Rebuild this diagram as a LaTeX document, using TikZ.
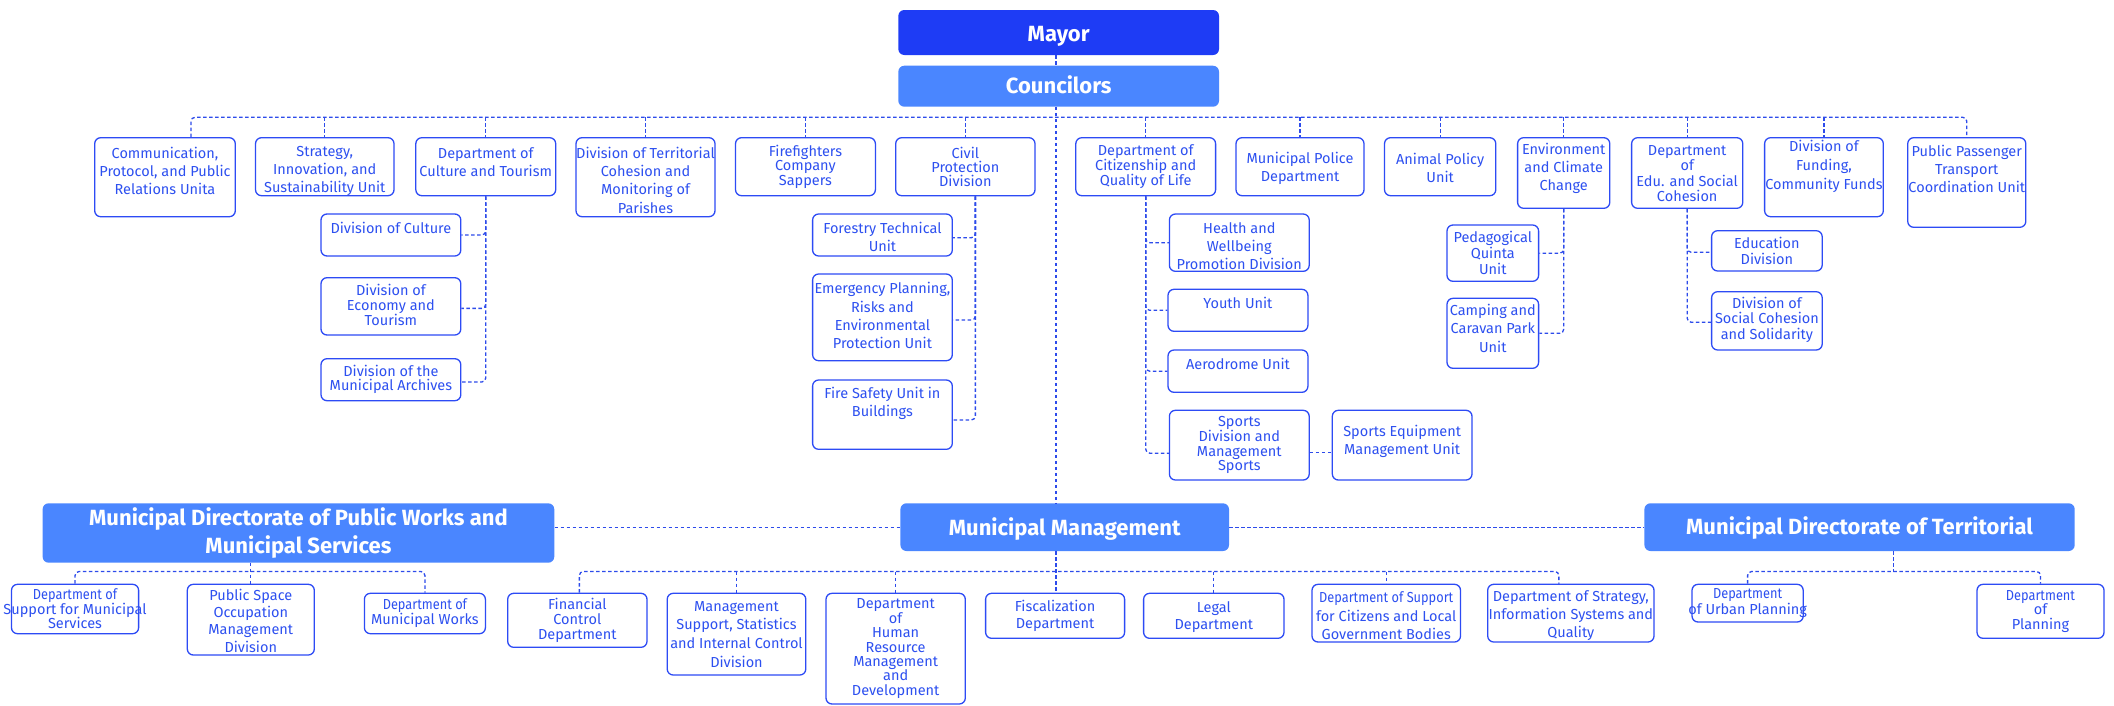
\documentclass[tikz,border=0pt]{standalone}
\usepackage{fontspec}
\setmainfont{Fira Sans}
\newfontfamily\narrowf[FakeStretch=0.88]{Fira Sans}
\usetikzlibrary{calc}
\definecolor{tblue}{RGB}{45,80,240}
\definecolor{bblue}{RGB}{45,75,245}
\definecolor{lblue}{RGB}{45,75,235}
\definecolor{mayorc}{RGB}{30,60,245}
\definecolor{bigc}{RGB}{74,134,255}
\tikzset{
  box/.style={draw=bblue, line width=1.3pt, rounded corners=6pt, fill=white, inner sep=0pt},
  txt/.style={text=tblue, align=center, inner sep=0pt},
  big/.style={draw=none, rounded corners=6pt, inner sep=0pt},
  bigtxt/.style={text=white, align=center, inner sep=0pt, font=\fontsize{22}{27.7}\selectfont\bfseries},
  oneline/.style={text height=15.2pt, text depth=0pt},
  conn/.style={draw=lblue, line width=1.3pt, dash pattern=on 3.5pt off 2.5pt, rounded corners=4pt},
}
\newcommand\bx[8]{%
  \node[box, minimum width={(#4)-(#2)}, minimum height={(#5)-(#3)}] (#1) at ({((#2)+(#4))/2},{((#3)+(#5))/2}) {};
  \node[txt, font=\fontsize{14.5}{#7}\selectfont] (#1t) at ($(#1.center)+(0,#6)$) {#8};
}
\newcommand\bigbx[8]{%
  \node[big, fill=#6, minimum width={(#4)-(#2)}, minimum height={(#5)-(#3)}] (#1) at ({((#2)+(#4))/2},{((#3)+(#5))/2}) {};
  \node[bigtxt, #7] (#1t) at (#1.center) {#8};
}
\begin{document}
\begin{tikzpicture}[x=1pt,y=-1pt]
\useasboundingbox (0,0) rectangle (2114,705);
\fill[white] (0,0) rectangle (2114,705);

% big boxes
\bigbx{mayor}{898.3}{10}{1219}{55}{mayorc}{oneline, yshift=-1.5pt}{Mayor}
\bigbx{coun}{898.3}{65.7}{1219}{106.7}{bigc}{oneline}{Councilors}
\bigbx{pw}{42.6}{503.3}{554.3}{562.7}{bigc}{}{Municipal Directorate of Public Works and\\Municipal Services}
\bigbx{mm}{900.4}{503.3}{1229}{551}{bigc}{oneline, yshift=-1pt}{Municipal Management}
\bigbx{mdt}{1644.4}{503.3}{2074.7}{551}{bigc}{oneline}{Municipal Directorate of Territorial}

% row 1
\bx{comm}{94.7}{137.7}{235.3}{216.7}{-6.4}{18}{Communication,\\Protocol, and Public\\Relations Unita}
\bx{strat}{255.5}{137.7}{394}{195.7}{4}{18}{Strategy,\\Innovation, and\\Sustainability Unit}
\bx{cult}{415.8}{137.7}{555.7}{195.7}{-5}{18}{Department of\\Culture and Tourism}
\bx{dterr}{576}{137.7}{715}{216.7}{3}{18.2}{Division of Territorial\\Cohesion and\\Monitoring of\\Parishes}
\bx{fire}{735.5}{137.7}{875.4}{195.7}{0}{14.2}{Firefighters\\Company\\Sappers}
\bx{civil}{895.7}{137.7}{1035}{195.7}{0}{14.2}{Civil\\Protection\\Division}
\bx{citiz}{1075.8}{137.7}{1215.6}{195.7}{0}{14.2}{Department of\\Citizenship and\\Quality of Life}
\bx{police}{1236}{137.7}{1364}{195.7}{1.6}{18}{Municipal Police\\Department}
\bx{animal}{1384.5}{137.7}{1495.8}{195.7}{1.6}{18}{Animal Policy\\Unit}
\bx{env}{1517.6}{137.7}{1609.8}{208.3}{-4.5}{18}{Environment\\and Climate\\Change}
\bx{edu}{1631.6}{137.7}{1742.8}{208.3}{0.5}{15.5}{Department\\of\\Edu. and Social\\Cohesion}
\bx{fund}{1764.6}{137.7}{1883.3}{216.7}{-10.7}{18.7}{Division of\\Funding,\\Community Funds}
\bx{pp}{1907.7}{137.7}{2025.8}{227.3}{-13.7}{18}{Public Passenger\\Transport\\Coordination Unit}

% culture children
\bx{dcult}{321}{214}{460.8}{256}{-6.7}{18}{Division of Culture}
\bx{econ}{321}{277.7}{460.8}{335}{-1.3}{14.3}{Division of\\Economy and\\Tourism}
\bx{arch}{321}{358.7}{460.8}{400.7}{0}{13.7}{Division of the\\Municipal Archives}
% civil children
\bx{forest}{812.6}{214}{952.3}{256}{2}{17.4}{Forestry Technical\\Unit}
\bx{emerg}{812.6}{274}{952.3}{360.7}{-1.8}{18.1}{Emergency Planning,\\Risks and\\Environmental\\Protection Unit}
\bx{fsafe}{812.6}{380}{952.3}{449.3}{-11.5}{17.7}{Fire Safety Unit in\\Buildings}
% citizenship children
\bx{health}{1169.4}{214}{1309.2}{271.3}{3.5}{17.9}{Health and\\Wellbeing\\Promotion Division}
\bx{youth}{1168}{289.3}{1307.9}{331.3}{-7}{18}{Youth Unit}
\bx{aero}{1168}{350}{1307.9}{392.3}{-7.2}{18}{Aerodrome Unit}
\bx{sports}{1169.4}{410.3}{1309.2}{480}{0}{14.7}{Sports\\Division and\\Management\\Sports}
\bx{sequip}{1332.3}{410.3}{1472}{480}{-4}{17.7}{Sports Equipment\\Management Unit}
% environment children
\bx{ped}{1447}{225}{1538.6}{281.3}{0}{16}{Pedagogical\\Quinta\\Unit}
\bx{camp}{1447}{298.3}{1538.6}{368.3}{-5}{18.3}{Camping and\\Caravan Park\\Unit}
% edu children
\bx{educ}{1711.6}{230.7}{1822.2}{271}{0}{15.7}{Education\\Division}
\bx{socc}{1711.6}{291.7}{1822.2}{350}{-1}{15.5}{Division of\\Social Cohesion\\and Solidarity}

% bottom row
\bx{sms}{11.5}{584.3}{138.6}{633.7}{0}{14.5}{\narrowf Department of\\Support for Municipal\\Services}
\bx{pspace}{187.3}{584.3}{314.3}{655}{1}{17.2}{Public Space\\Occupation\\Management\\Division}
\bx{mworks}{364.4}{593.3}{485.4}{633.7}{0}{15}{\narrowf Department of\\Municipal Works}
\bx{finc}{507.7}{593.3}{647}{647.3}{0}{14.7}{Financial\\Control\\Department}
\bx{msup}{667.2}{593.3}{805.8}{675}{0}{18.7}{Management\\Support, Statistics\\and Internal Control\\Division}
\bx{hr}{826}{593.3}{965.3}{704}{0}{14.4}{Department\\of\\Human\\Resource\\Management\\and\\Development}
\bx{fisc}{985.6}{593.3}{1124.6}{638.3}{0}{17.7}{Fiscalization\\Department}
\bx{legal}{1143.6}{593.3}{1284}{638.3}{1}{17.4}{Legal\\Department}
\bx{supc}{1312}{584.3}{1460.5}{642}{2.5}{18.3}{\narrowf Department of Support\\for Citizens and Local\\Government Bodies}
\bx{stratis}{1487.7}{584.3}{1654}{642}{2.5}{18.3}{Department of Strategy,\\Information Systems and\\Quality}
\bx{urban}{1692}{584.3}{1803.2}{622}{0}{14}{\narrowf Department\\of Urban Planning}
\bx{plan}{1977}{584.3}{2104}{638.3}{0}{14.5}{\narrowf Department\\of\\Planning}

% ---------- connectors ----------
\coordinate (trunkx) at (1056,0);
\coordinate (busT) at (0,117.3);
\coordinate (busB) at (0,571.5);
\draw[conn] (mayor.south -| trunkx) -- (coun.north -| trunkx);
\draw[conn] (coun.south -| trunkx) -- (mm.north -| trunkx);
\draw[conn] (mm.south -| trunkx) -- (fisc.north -| trunkx);

\draw[conn] ([xshift=26pt]comm.north) |- (pp.north |- busT) -- (pp.north);
\foreach \n in {strat,cult,dterr,fire,civil,citiz,police,animal,env,edu,fund}
  \draw[conn] (\n.north |- busT) -- (\n.north);

\draw[conn] (cult.south) |- (dcult.east);
\draw[conn] (cult.south) |- ([yshift=-2pt]econ.east);
\draw[conn] (cult.south) |- ([yshift=-2.3pt]arch.east);

\coordinate (cv) at ([xshift=10pt]civil.south);
\draw[conn] (cv) |- ([yshift=-2.7pt]forest.east);
\draw[conn] (cv) |- ([yshift=-2.7pt]emerg.east);
\draw[conn] (cv) |- ([yshift=-5.3pt]fsafe.east);

\draw[conn] (citiz.south) |- (health.west);
\draw[conn] (citiz.south) |- (youth.west);
\draw[conn] (citiz.south) |- (aero.west);
\draw[conn] (citiz.south) |- ([yshift=-8pt]sports.west);
\draw[conn] ([yshift=-7pt]sports.east) -- ([yshift=-7pt]sequip.west);

\draw[conn] (env.south) |- (ped.east);
\draw[conn] (env.south) |- (camp.east);

\draw[conn] (edu.south) |- ([yshift=-1.4pt]educ.west);
\draw[conn] (edu.south) |- ([yshift=-1.4pt]socc.west);

\draw[conn] (mm.west -| pw.east) -- (mm.west);
\draw[conn] (mm.east) -- (mdt.west);

\draw[conn] (pspace.north |- pw.south) -- (pspace.north);
\draw[conn] (sms.north) |- (mworks.north |- busB) -- (mworks.north);

\draw[conn] ([xshift=2pt]finc.north) |- ([xshift=-12pt]stratis.north |- busB) -- ([xshift=-12pt]stratis.north);
\foreach \n in {msup,hr,legal,supc}
  \draw[conn] (\n.north |- busB) -- (\n.north);

\draw[conn] ([xshift=34pt]mdt.south) -- ([xshift=34pt]mdt.south |- busB);
\draw[conn] (urban.north) |- (plan.north |- busB) -- (plan.north);
\end{tikzpicture}
\end{document}
